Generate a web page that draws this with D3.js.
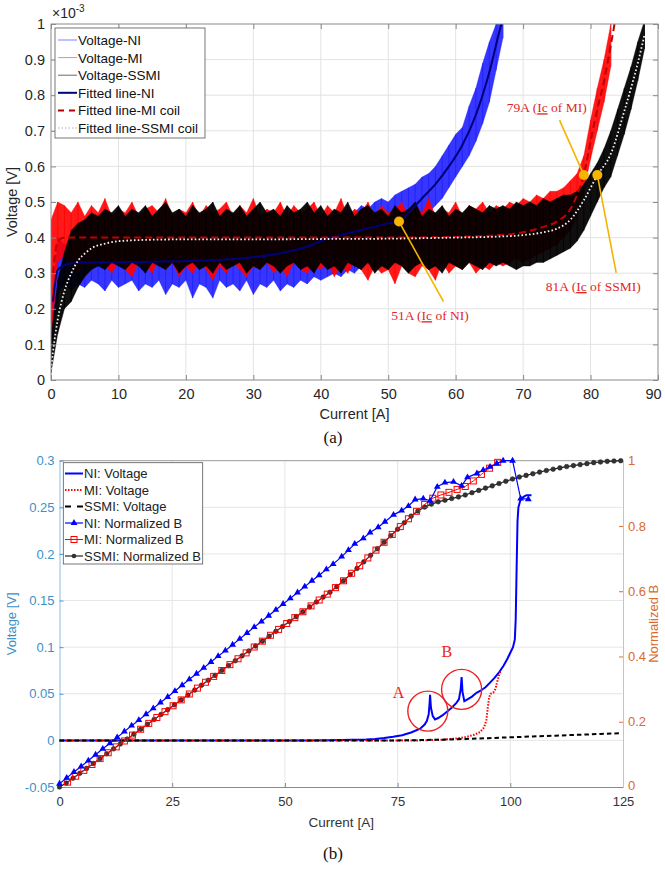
<!DOCTYPE html>
<html><head><meta charset="utf-8">
<script src="https://cdn.jsdelivr.net/npm/d3@7"></script>
<style>
body{margin:0;background:#fff}
svg{display:block}
text{font-family:"Liberation Sans",Arial,sans-serif}
.serif{font-family:"Liberation Serif","Times New Roman",serif}
</style>
</head><body>
<svg id="c" width="665" height="869"></svg>
<script>
// ================= PANEL (a) DATA =================
const xTicksA = [0,10,20,30,40,50,60,70,80,90];
const yTicksA = [0,0.1,0.2,0.3,0.4,0.5,0.6,0.7,0.8,0.9,1];
const yTickLabelsA = ["0","0.1","0.2","0.3","0.4","0.5","0.6","0.7","0.8","0.9","1"];

// noisy voltage envelopes (x1e-3 V), sampled each 1 A
const curNI = [0,1,2,3,4,5,6,7,8,9,10,11,12,13,14,15,16,17,18,19,20,21,22,23,24,25,26,27,28,29,30,31,32,33,34,35,36,37,38,39,40,41,42,43,44,45,46,47,48,49,50,51,52,53,54,55,56,57,58,59,60,61,62,63,64,65,66,67];
const hiNI = [0.20,0.40,0.38,0.39,0.37,0.38,0.36,0.39,0.37,0.38,0.36,0.37,0.39,0.37,0.38,0.36,0.38,0.37,0.39,0.36,0.38,0.37,0.39,0.36,0.38,0.37,0.39,0.36,0.38,0.37,0.38,0.36,0.39,0.37,0.38,0.39,0.38,0.40,0.39,0.41,0.44,0.45,0.46,0.47,0.48,0.47,0.49,0.48,0.50,0.51,0.50,0.52,0.53,0.54,0.55,0.57,0.58,0.60,0.63,0.66,0.69,0.71,0.77,0.82,0.89,0.95,1.0,1.05];
const loNI = [0.08,0.24,0.27,0.25,0.27,0.26,0.28,0.27,0.25,0.28,0.26,0.27,0.28,0.25,0.27,0.26,0.28,0.24,0.27,0.26,0.28,0.23,0.27,0.26,0.23,0.28,0.26,0.27,0.25,0.28,0.24,0.27,0.26,0.28,0.25,0.27,0.26,0.28,0.27,0.29,0.28,0.29,0.30,0.29,0.31,0.30,0.32,0.34,0.35,0.37,0.38,0.40,0.41,0.42,0.44,0.45,0.47,0.49,0.51,0.54,0.57,0.60,0.63,0.67,0.72,0.78,0.87,0.96];

const curMI = [0,1,2,3,4,5,6,7,8,9,10,11,12,13,14,15,16,17,18,19,20,21,22,23,24,25,26,27,28,29,30,31,32,33,34,35,36,37,38,39,40,41,42,43,44,45,46,47,48,49,50,51,52,53,54,55,56,57,58,59,60,61,62,63,64,65,66,67,68,69,70,71,72,73,74,75,76,77,78,79,80,81,82,83];
const hiMI = [0.45,0.50,0.49,0.47,0.50,0.46,0.49,0.47,0.51,0.46,0.48,0.47,0.50,0.46,0.48,0.49,0.47,0.51,0.46,0.48,0.47,0.50,0.46,0.49,0.47,0.48,0.50,0.46,0.49,0.47,0.51,0.46,0.48,0.47,0.50,0.46,0.49,0.47,0.48,0.50,0.46,0.49,0.47,0.51,0.46,0.48,0.47,0.50,0.46,0.49,0.47,0.48,0.50,0.46,0.49,0.47,0.51,0.46,0.48,0.47,0.50,0.46,0.49,0.48,0.50,0.47,0.49,0.48,0.50,0.49,0.51,0.50,0.52,0.51,0.53,0.53,0.54,0.56,0.58,0.63,0.73,0.82,0.90,1.0];
const loMI = [0.10,0.33,0.35,0.32,0.30,0.33,0.31,0.34,0.32,0.30,0.33,0.31,0.29,0.33,0.32,0.30,0.34,0.31,0.33,0.29,0.32,0.30,0.33,0.31,0.28,0.32,0.30,0.33,0.31,0.29,0.32,0.31,0.33,0.30,0.32,0.29,0.33,0.31,0.30,0.32,0.31,0.33,0.29,0.32,0.30,0.33,0.31,0.28,0.32,0.30,0.31,0.27,0.32,0.30,0.29,0.32,0.31,0.28,0.33,0.30,0.32,0.31,0.33,0.30,0.32,0.31,0.33,0.32,0.33,0.34,0.33,0.34,0.35,0.36,0.37,0.38,0.40,0.42,0.46,0.53,0.62,0.70,0.78,0.88];

const curSS = [0,1,2,3,4,5,6,7,8,9,10,11,12,13,14,15,16,17,18,19,20,21,22,23,24,25,26,27,28,29,30,31,32,33,34,35,36,37,38,39,40,41,42,43,44,45,46,47,48,49,50,51,52,53,54,55,56,57,58,59,60,61,62,63,64,65,66,67,68,69,70,71,72,73,74,75,76,77,78,79,80,81,82,83,84,85,86,87,88];
const hiSS = [0.12,0.28,0.36,0.42,0.44,0.45,0.47,0.46,0.48,0.47,0.49,0.46,0.48,0.47,0.49,0.46,0.48,0.50,0.47,0.48,0.46,0.49,0.47,0.48,0.50,0.46,0.48,0.47,0.49,0.46,0.48,0.50,0.47,0.48,0.46,0.49,0.47,0.48,0.50,0.47,0.49,0.46,0.48,0.47,0.50,0.46,0.48,0.49,0.47,0.48,0.46,0.49,0.47,0.48,0.50,0.46,0.48,0.47,0.49,0.46,0.48,0.47,0.49,0.48,0.47,0.49,0.48,0.49,0.48,0.50,0.49,0.50,0.49,0.51,0.50,0.51,0.52,0.52,0.53,0.55,0.58,0.61,0.65,0.70,0.76,0.82,0.88,0.95,1.01];
const loSS = [0.02,0.13,0.20,0.22,0.26,0.29,0.31,0.32,0.31,0.33,0.32,0.31,0.33,0.32,0.30,0.33,0.32,0.31,0.33,0.30,0.32,0.33,0.31,0.32,0.30,0.33,0.31,0.32,0.33,0.30,0.32,0.31,0.33,0.32,0.30,0.32,0.33,0.31,0.32,0.30,0.33,0.31,0.32,0.30,0.33,0.32,0.31,0.33,0.30,0.32,0.31,0.33,0.32,0.30,0.32,0.33,0.31,0.32,0.30,0.33,0.32,0.31,0.33,0.32,0.31,0.33,0.32,0.33,0.32,0.31,0.32,0.32,0.33,0.33,0.34,0.35,0.36,0.37,0.39,0.42,0.46,0.50,0.54,0.57,0.63,0.69,0.76,0.84,0.93];

// fitted lines
const fitNIcur = [0.3,1,3,5,10,15,20,25,30,35,38,41,44,47,50,51.6,53,55,57,59,61,63,65,66.5,67.5];
const fitNIv   = [0.22,0.31,0.328,0.33,0.331,0.332,0.334,0.338,0.345,0.36,0.375,0.398,0.412,0.426,0.44,0.445,0.47,0.51,0.55,0.60,0.66,0.745,0.865,0.98,1.05];
const fitMIcur = [0.3,1,2,5,10,20,30,40,50,60,65,70,73,75,77,78,79,80,81,82,83,84];
const fitMIv   = [0.30,0.39,0.40,0.40,0.40,0.40,0.40,0.40,0.40,0.402,0.405,0.415,0.43,0.445,0.48,0.52,0.576,0.67,0.76,0.84,0.94,1.05];
const fitSScur = [0,0.3,1,2,3,4,5,6,8,10,15,20,30,40,50,60,65,70,73,75,77,79,81,83,85,86,87,88];
const fitSSv   = [0.03,0.08,0.17,0.25,0.30,0.335,0.355,0.37,0.383,0.39,0.394,0.395,0.395,0.396,0.397,0.40,0.402,0.407,0.415,0.425,0.45,0.505,0.575,0.635,0.755,0.82,0.89,0.97];

// critical current markers
const icCur = [51.6, 79, 81];
const icV   = [0.445, 0.576, 0.576];
const icLabels = [["51A (","Ic"," of NI)"],["79A (","Ic"," of MI)"],["81A (","Ic"," of SSMI)"]];
const icLabelCur = [56.2, 73.5, 80.4];
const icLabelV   = [0.168, 0.752, 0.250];
const icLineEndCur = [58.2, 75.4, 83.8];
const icLineEndV   = [0.22, 0.73, 0.301];

const legendA = ["Voltage-NI","Voltage-MI","Voltage-SSMI","Fitted line-NI","Fitted line-MI coil","Fitted line-SSMI coil"];

// ================= PANEL (b) DATA =================
const xTicksB = [0,25,50,75,100,125];
const yTicksL = [-0.05,0,0.05,0.1,0.15,0.2,0.25,0.3];
const yTickLabelsL = ["-0.05","0","0.05","0.1","0.15","0.2","0.25","0.3"];
const yTicksR = [0,0.2,0.4,0.6,0.8,1];
const yTickLabelsR = ["0","0.2","0.4","0.6","0.8","1"];

const niVcur = [0,55,60,65,68,70,72,74,76,78,80,81,81.5,81.9,82.1,82.2,82.4,82.8,83.3,84,85,86,87,88,88.6,89.0,89.2,89.4,89.8,90.5,91.5,92.5,93.3,94.5,95.5,96.5,97.5,98.5,99.3,100,100.6,101,101.2,101.35,101.5,101.6,101.8,102.2,102.6,103.2,103.6,104.7];
const niV = [0,0,0.0002,0.0006,0.001,0.0016,0.0025,0.0038,0.0055,0.0085,0.0125,0.017,0.021,0.028,0.040,0.049,0.035,0.026,0.0225,0.024,0.027,0.031,0.035,0.040,0.044,0.055,0.068,0.052,0.042,0.044,0.047,0.051,0.053,0.057,0.062,0.067,0.073,0.080,0.087,0.094,0.100,0.108,0.13,0.17,0.21,0.235,0.25,0.257,0.26,0.262,0.263,0.263];
const miVcur = [0,80,85,88,90,92,93.3,94.2,94.7,95.0,95.3,95.6,96.2,96.7,97.1,97.5,97.8];
const miV = [0,0,0.0008,0.002,0.0035,0.006,0.009,0.014,0.022,0.035,0.046,0.05,0.051,0.055,0.063,0.07,0.074];
const ssVcur = [0,75,80,85,90,95,100,105,110,115,120,124.5];
const ssV = [0,0,0.0003,0.0008,0.0015,0.0024,0.0033,0.0042,0.0051,0.006,0.0069,0.0077];

const niBcur = [0,1.6,3.2,4.8,6.4,8,9.6,11.2,12.8,14.4,16,17.6,19.2,20.8,22.4,24,25.6,27.2,28.8,30.4,32,33.6,35.2,36.8,38.4,40,41.6,43.2,44.8,46.4,48,49.6,51.2,52.8,54.4,56,57.6,59.2,60.7,62.6,64.1,65.5,67.4,68.9,70.7,72.2,74.1,75.9,77.4,78.9,80.7,82.2,83.8,85.5,87.4,89.2,90.5,92.6,94.0,95.5,97.0,98.4,100.5,102.3,104.0];
const niB = [0.010,0.028,0.046,0.063,0.081,0.099,0.117,0.134,0.152,0.170,0.188,0.205,0.223,0.241,0.259,0.276,0.294,0.312,0.330,0.347,0.365,0.383,0.401,0.418,0.436,0.454,0.472,0.490,0.507,0.525,0.543,0.561,0.578,0.596,0.614,0.632,0.649,0.667,0.683,0.706,0.726,0.745,0.762,0.780,0.796,0.813,0.834,0.847,0.861,0.881,0.884,0.877,0.920,0.933,0.935,0.923,0.949,0.961,0.971,0.981,0.991,1.0,1.0,0.884,0.882];
const miBcur = [1.8,3.6,5.4,7.2,9,10.8,12.6,14.4,16.2,18,19.8,21.6,23.4,25.2,27,28.8,30.6,32.4,34.2,36,37.8,39.6,41.4,43.2,45,46.8,48.6,50.4,52.2,54,55.8,57.6,59.4,61.2,63,64.8,66.6,68.4,70.2,72,73.8,75.6,77.4,79.2,81,82.8,84.6,86.4,88.2,90,91.8,93.6,95.4,97.2];
const miB = [0.015,0.033,0.051,0.069,0.087,0.105,0.123,0.141,0.159,0.177,0.195,0.213,0.231,0.249,0.267,0.285,0.303,0.321,0.339,0.357,0.375,0.393,0.411,0.429,0.447,0.465,0.483,0.501,0.519,0.537,0.555,0.573,0.591,0.611,0.632,0.655,0.678,0.702,0.726,0.75,0.774,0.798,0.822,0.845,0.866,0.885,0.895,0.903,0.912,0.921,0.938,0.958,0.977,0.995];
const ssBcur = [0,1.5,3,4.5,6,7.5,9,10.5,12,13.5,15,16.5,18,19.5,21,22.5,24,25.5,27,28.5,30,31.5,33,34.5,36,37.5,39,40.5,42,43.5,45,46.5,48,49.5,51,52.5,54,55.5,57,58.5,60,61.5,63,64.5,66,67.5,69,70.5,72,73.5,75,76.5,78,79.5,81,82.5,84,85.5,87,88.5,90,91.5,93,94.5,96,97.5,99,100.5,102,103.5,105,106.5,108,109.5,111,112.5,114,115.5,117,118.5,120,121.5,123,124.5];
const ssB = [0,0.012,0.027,0.042,0.057,0.072,0.087,0.102,0.117,0.132,0.147,0.162,0.177,0.192,0.207,0.222,0.237,0.252,0.267,0.282,0.297,0.312,0.327,0.342,0.357,0.372,0.387,0.402,0.417,0.432,0.447,0.462,0.477,0.492,0.507,0.522,0.537,0.552,0.567,0.582,0.597,0.614,0.632,0.651,0.670,0.69,0.71,0.73,0.75,0.77,0.79,0.81,0.83,0.846,0.858,0.867,0.874,0.879,0.884,0.889,0.895,0.902,0.909,0.916,0.923,0.93,0.937,0.944,0.95,0.955,0.96,0.965,0.97,0.974,0.978,0.982,0.985,0.988,0.991,0.994,0.996,0.998,0.999,1.0];

// annotation circles A/B (current, voltage)
const circLabels = ["A","B"];
const circCur = [81.7, 89.2];
const circV = [0.0314, 0.0547];
const circLabelCur = [75.2, 85.9];
const circLabelV = [0.0455, 0.089];

const legendB = ["NI: Voltage","MI: Voltage","SSMI: Voltage","NI: Normalized B","MI: Normalized B","SSMI: Normalized B"];

// ================= DRAW =================
const svg = d3.select("#c");
const zip = (a,b) => a.map((v,i)=>[v,b[i]]);

// ---------- Panel (a) ----------
const xA = d3.scaleLinear().domain([0,90]).range([51,658]);
const yA = d3.scaleLinear().domain([0,1]).range([380,24]);
const gA = svg.append("g");
svg.append("clipPath").attr("id","clipA").append("rect")
  .attr("x",xA(0)).attr("y",yA(1)).attr("width",xA(90)-xA(0)).attr("height",yA(0)-yA(1));

// grid
gA.append("g").selectAll("line").data(xTicksA.slice(1,-1)).join("line")
  .attr("x1",d=>xA(d)).attr("x2",d=>xA(d)).attr("y1",yA(0)).attr("y2",yA(1))
  .attr("stroke","#e3e3e3").attr("stroke-width",1);
gA.append("g").selectAll("line").data(yTicksA.slice(1,-1)).join("line")
  .attr("x1",xA(0)).attr("x2",xA(90)).attr("y1",d=>yA(d)).attr("y2",d=>yA(d))
  .attr("stroke","#e3e3e3").attr("stroke-width",1);

const plotA = gA.append("g").attr("clip-path","url(#clipA)");
function band(cur, hi, lo, color, fillOp, strokeOp){
  const area = d3.area().x((d,i)=>xA(cur[i])).y0((d,i)=>yA(lo[i])).y1((d,i)=>yA(hi[i]));
  plotA.append("path").datum(hi).attr("d",area).attr("fill",color).attr("fill-opacity",fillOp)
    .attr("stroke",color).attr("stroke-opacity",strokeOp*0.6).attr("stroke-width",0.6);
  plotA.append("g").selectAll("line").data(cur).join("line")
    .attr("x1",d=>xA(d)).attr("x2",d=>xA(d))
    .attr("y1",(d,i)=>yA(hi[i])).attr("y2",(d,i)=>yA(lo[i]))
    .attr("stroke",color).attr("stroke-opacity",strokeOp).attr("stroke-width",0.8);
}
band(curNI, hiNI, loNI, "#1a1aff", 0.88, 0.9);
band(curMI, hiMI, loMI, "#ff0000", 0.9, 0.9);
band(curSS, hiSS, loSS, "#000000", 0.94, 0.95);

const lineA = d3.line().x(d=>xA(d[0])).y(d=>yA(d[1])).curve(d3.curveMonotoneX);
plotA.append("path").datum(zip(fitNIcur,fitNIv)).attr("d",lineA).attr("fill","none")
  .attr("stroke","#00007a").attr("stroke-width",2);
plotA.append("path").datum(zip(fitMIcur,fitMIv)).attr("d",lineA).attr("fill","none")
  .attr("stroke","#c00000").attr("stroke-width",2).attr("stroke-dasharray","7,4");
plotA.append("path").datum(zip(fitSScur,fitSSv)).attr("d",lineA).attr("fill","none")
  .attr("stroke","#f2f2f2").attr("stroke-width",1.8).attr("stroke-dasharray","1.6,2.2");

// box & ticks
gA.append("rect").attr("x",xA(0)).attr("y",yA(1)).attr("width",xA(90)-xA(0)).attr("height",yA(0)-yA(1))
  .attr("fill","none").attr("stroke","#8a8a8a").attr("stroke-width",1);
const gxA = gA.append("g").attr("transform",`translate(0,${yA(0)})`)
  .call(d3.axisBottom(xA).tickValues(xTicksA).tickSizeInner(-5).tickSizeOuter(0).tickPadding(9));
const gyA = gA.append("g").attr("transform",`translate(${xA(0)},0)`)
  .call(d3.axisLeft(yA).tickValues(yTicksA).tickFormat((d,i)=>yTickLabelsA[i]).tickSizeInner(-5).tickSizeOuter(0).tickPadding(6));
const gyA2 = gA.append("g").attr("transform",`translate(${xA(90)},0)`)
  .call(d3.axisRight(yA).tickValues(yTicksA).tickFormat("").tickSizeInner(-5).tickSizeOuter(0));
const gxA2 = gA.append("g").attr("transform",`translate(0,${yA(1)})`)
  .call(d3.axisTop(xA).tickValues(xTicksA).tickFormat("").tickSizeInner(-5).tickSizeOuter(0));
[gxA,gyA,gyA2,gxA2].forEach(g=>{
  g.select(".domain").remove();
  g.selectAll("line").attr("stroke","#8a8a8a");
  g.selectAll("text").attr("fill","#262626").style("font-size","14.5px").style("font-family","Liberation Sans, Arial, sans-serif");
});
gxA.selectAll(".tick text").filter(d=>d===90).attr("dx",-5);
// exponent label
const expT = gA.append("text").attr("x",52).attr("y",18).attr("fill","#262626").style("font-size","14px");
expT.append("tspan").text("\u00d710");
expT.append("tspan").attr("dy",-6).style("font-size","10px").text("-3");

gA.append("text").attr("transform",`translate(17,${(yA(0)+yA(1))/2}) rotate(-90)`)
  .attr("text-anchor","middle").attr("fill","#262626").style("font-size","14.5px").text("Voltage [V]");
gA.append("text").attr("x",(xA(0)+xA(90))/2).attr("y",419).attr("text-anchor","middle")
  .attr("fill","#262626").style("font-size","14.5px").text("Current [A]");

// annotations
icCur.forEach((c,i)=>{
  gA.append("line").attr("x1",xA(c)).attr("y1",yA(icV[i])).attr("x2",xA(icLineEndCur[i])).attr("y2",yA(icLineEndV[i]))
    .attr("stroke","#f4b400").attr("stroke-width",1.6);
});
icCur.forEach((c,i)=>{
  gA.append("circle").attr("cx",xA(c)).attr("cy",yA(icV[i])).attr("r",5).attr("fill","#f7b500");
});
icLabels.forEach((parts,i)=>{
  const t = gA.append("text").attr("class","serif").attr("x",xA(icLabelCur[i])).attr("y",yA(icLabelV[i]))
    .attr("text-anchor","middle").attr("fill","#e02828").style("font-size","13.5px");
  t.append("tspan").text(parts[0]);
  t.append("tspan").style("text-decoration","underline").text(parts[1]);
  t.append("tspan").text(parts[2]);
});

// legend (a)
const legA = gA.append("g");
legA.append("rect").attr("x",55).attr("y",28).attr("width",150).attr("height",110)
  .attr("fill","#fff").attr("stroke","#555").attr("stroke-width",0.8);
const legAStyles = [
  {c:"#8080ff",w:1,d:null},{c:"#ff8080",w:1,d:null},{c:"#6a6a6a",w:1,d:null},
  {c:"#00007a",w:2,d:null},{c:"#b00000",w:2,d:"6,5"},{c:"#b0b0b0",w:1.2,d:"1.5,2"}];
legendA.forEach((s,i)=>{
  const y = 40 + i*17.6;
  legA.append("line").attr("x1",58).attr("x2",77).attr("y1",y).attr("y2",y)
    .attr("stroke",legAStyles[i].c).attr("stroke-width",legAStyles[i].w).attr("stroke-dasharray",legAStyles[i].d);
  legA.append("text").attr("x",78).attr("y",y+5).attr("fill","#111").style("font-size","13.5px").text(s);
});

svg.append("text").attr("class","serif").attr("x",333).attr("y",443).attr("text-anchor","middle")
  .attr("fill","#111").style("font-size","17px").text("(a)");

// ---------- Panel (b) ----------
const xB = d3.scaleLinear().domain([0,125]).range([59.5,623]);
const yL = d3.scaleLinear().domain([-0.05,0.3]).range([787,460.7]);
const yR = d3.scaleLinear().domain([0,1]).range([787,460.7]);
const gB = svg.append("g");
const blueAx = "#4a9ad4", orangeAx = "#d9703a";

gB.append("g").selectAll("line").data(xTicksB.slice(1,-1)).join("line")
  .attr("x1",d=>xB(d)).attr("x2",d=>xB(d)).attr("y1",yL(-0.05)).attr("y2",yL(0.3))
  .attr("stroke","#e6e6e6");
gB.append("g").selectAll("line").data(yTicksL.slice(1,-1)).join("line")
  .attr("x1",xB(0)).attr("x2",xB(125)).attr("y1",d=>yL(d)).attr("y2",d=>yL(d))
  .attr("stroke","#e6e6e6");

// top & bottom box
gB.append("line").attr("x1",xB(0)).attr("x2",xB(125)).attr("y1",yL(0.3)).attr("y2",yL(0.3)).attr("stroke","#9a9a9a");
const gxB = gB.append("g").attr("transform",`translate(0,${yL(-0.05)})`)
  .call(d3.axisBottom(xB).tickValues(xTicksB).tickSizeInner(-4).tickSizeOuter(0).tickPadding(10));
gxB.select(".domain").attr("stroke","#8a8a8a");
gxB.selectAll("line").attr("stroke","#8a8a8a");
gxB.selectAll("text").attr("fill","#333").style("font-size","13px");
const gyL = gB.append("g").attr("transform",`translate(${xB(0)},0)`)
  .call(d3.axisLeft(yL).tickValues(yTicksL).tickFormat((d,i)=>yTickLabelsL[i]).tickSizeInner(-4).tickSizeOuter(0).tickPadding(5));
gyL.select(".domain").attr("stroke","#8cc0e6");
gyL.selectAll("line").attr("stroke",blueAx);
gyL.selectAll("text").attr("fill","#3d8fca").style("font-size","13px");
const gyR = gB.append("g").attr("transform",`translate(${xB(125)},0)`)
  .call(d3.axisRight(yR).tickValues(yTicksR).tickFormat((d,i)=>yTickLabelsR[i]).tickSizeInner(-4).tickSizeOuter(0).tickPadding(5));
gyR.select(".domain").attr("stroke","#ebb89a");
gyR.selectAll("line").attr("stroke",orangeAx);
gyR.selectAll("text").attr("fill","#d96a30").style("font-size","13px");
gyR.selectAll(".tick text").filter(d=>d===0).attr("dy","0.2em");

gB.append("text").attr("transform",`translate(16,${(yL(-0.05)+yL(0.3))/2}) rotate(-90)`)
  .attr("text-anchor","middle").attr("fill","#3d8fca").style("font-size","13px").text("Voltage [V]");
gB.append("text").attr("transform",`translate(658,${(yL(-0.05)+yL(0.3))/2}) rotate(-90)`)
  .attr("text-anchor","middle").attr("fill","#d96a30").style("font-size","13px").text("Normalized B");
gB.append("text").attr("x",(xB(0)+xB(125))/2).attr("y",827).attr("text-anchor","middle")
  .attr("fill","#333").style("font-size","13.5px").text("Current [A]");

const lineL = d3.line().x(d=>xB(d[0])).y(d=>yL(d[1]));
const lineR = d3.line().x(d=>xB(d[0])).y(d=>yR(d[1]));
// voltages
gB.append("path").datum(zip(niVcur,niV)).attr("d",lineL).attr("fill","none").attr("stroke","#0000ff").attr("stroke-width",2);
gB.append("path").datum(zip(miVcur,miV)).attr("d",lineL).attr("fill","none").attr("stroke","#ff0000").attr("stroke-width",2).attr("stroke-dasharray","1.5,1.5");
gB.append("path").datum(zip(ssVcur,ssV)).attr("d",lineL).attr("fill","none").attr("stroke","#000").attr("stroke-width",2).attr("stroke-dasharray","4.5,3");

// B curves
gB.append("path").datum(zip(ssBcur,ssB)).attr("d",lineR).attr("fill","none").attr("stroke","#222").attr("stroke-width",1.2);
gB.append("g").selectAll("circle").data(zip(ssBcur,ssB)).join("circle")
  .attr("cx",d=>xB(d[0])).attr("cy",d=>yR(d[1])).attr("r",2.3).attr("fill","#333").attr("stroke","#222").attr("stroke-width",0.6);
gB.append("path").datum(zip(miBcur,miB)).attr("d",lineR).attr("fill","none").attr("stroke","#ff0000").attr("stroke-width",1);
gB.append("g").selectAll("rect").data(zip(miBcur,miB)).join("rect")
  .attr("x",d=>xB(d[0])-3).attr("y",d=>yR(d[1])-3).attr("width",6).attr("height",6)
  .attr("fill","none").attr("stroke","#ff0000").attr("stroke-width",1);
gB.append("path").datum(zip(niBcur,niB)).attr("d",lineR).attr("fill","none").attr("stroke","#0000ff").attr("stroke-width",1.2);
const tri = d3.symbol().type(d3.symbolTriangle).size(20);
gB.append("g").selectAll("path").data(zip(niBcur,niB)).join("path")
  .attr("transform",d=>`translate(${xB(d[0])},${yR(d[1])})`).attr("d",tri).attr("fill","#0000ff");

// circles A, B
circCur.forEach((c,i)=>{
  gB.append("circle").attr("cx",xB(c)).attr("cy",yL(circV[i])).attr("r",20)
    .attr("fill","none").attr("stroke","#ee2222").attr("stroke-width",1.4);
  gB.append("text").attr("class","serif").attr("x",xB(circLabelCur[i])).attr("y",yL(circLabelV[i]))
    .attr("text-anchor","middle").attr("fill","#ee2222").style("font-size","16px").text(circLabels[i]);
});

// legend (b)
const legB = gB.append("g");
legB.append("rect").attr("x",63.3).attr("y",462.7).attr("width",139.4).attr("height",101.3)
  .attr("fill","#fff").attr("stroke","#555").attr("stroke-width",0.8);
const legBStyles = [
  {c:"#0000ff",w:2,d:null,m:null},{c:"#ff0000",w:2,d:"1.5,1.5",m:null},{c:"#000",w:2,d:"6,6",m:null},
  {c:"#0000ff",w:1.2,d:null,m:"tri"},{c:"#ff0000",w:1,d:null,m:"sq"},{c:"#222",w:1.2,d:null,m:"dot"}];
legendB.forEach((s,i)=>{
  const y = 473.5 + i*16.5;
  const st = legBStyles[i];
  legB.append("line").attr("x1",65).attr("x2",83).attr("y1",y).attr("y2",y)
    .attr("stroke",st.c).attr("stroke-width",st.w).attr("stroke-dasharray",st.d);
  if(st.m==="tri") legB.append("path").attr("transform",`translate(74,${y})`).attr("d",tri).attr("fill","#0000ff");
  if(st.m==="sq") legB.append("rect").attr("x",71).attr("y",y-3).attr("width",6).attr("height",6).attr("fill","none").attr("stroke","#f00");
  if(st.m==="dot") legB.append("circle").attr("cx",74).attr("cy",y).attr("r",2.3).attr("fill","#333");
  legB.append("text").attr("x",84).attr("y",y+4.5).attr("fill","#222").style("font-size","13px").text(s);
});

svg.append("text").attr("class","serif").attr("x",333).attr("y",859).attr("text-anchor","middle")
  .attr("fill","#111").style("font-size","17px").text("(b)");
</script>
</body></html>
